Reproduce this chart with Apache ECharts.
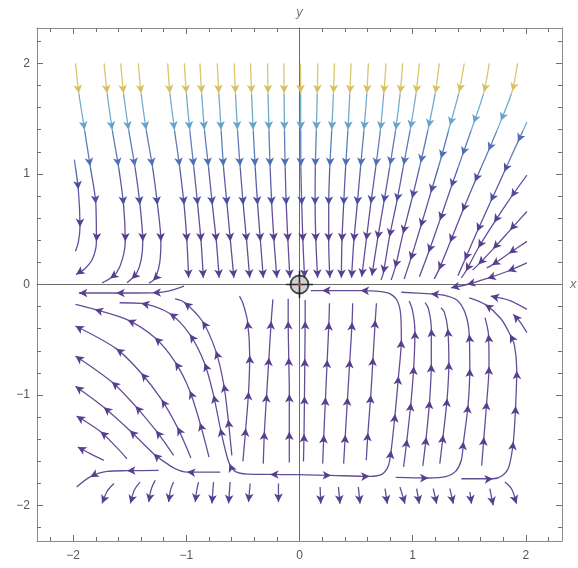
<!DOCTYPE html>
<html>
<head>
<meta charset="utf-8">
<script src="https://cdn.jsdelivr.net/npm/echarts@6/dist/echarts.min.js"></script>
<style>
html, body { margin: 0; padding: 0; background: #fff; }
#chart { width: 578px; height: 568px; }
</style>
</head>
<body>
<div id="chart"></div>
<script>
// streamlines, in plot units.
// first point = start of the line, [x, y] = arrowhead there, [x, y, 0] = bend only
var upperLines = [
    [[-1.98,2.0],[-1.95,1.73],[-1.90,1.40],[-1.85,1.07],[-1.80,0.73],[-1.795,0.39],[-1.83,0.23,0],[-1.90,0.14,0],[-1.975,0.09]],
    [[-1.99,1.13],[-1.955,0.86],[-1.94,0.52],[-1.955,0.38,0],[-1.98,0.30,0]],
    [[-1.727,2.0],[-1.70,1.73],[-1.655,1.40],[-1.60,1.07],[-1.555,0.72],[-1.54,0.39],[-1.565,0.23,0],[-1.615,0.11,0],[-1.675,0.055],[-1.745,0.015,0]],
    [[-1.58,2.0],[-1.555,1.73],[-1.51,1.40],[-1.455,1.07],[-1.41,0.72],[-1.385,0.39],[-1.40,0.22,0],[-1.44,0.10,0],[-1.485,0.05],[-1.525,0.015,0]],
    [[-1.424,2.0],[-1.40,1.73],[-1.355,1.40],[-1.30,1.07],[-1.255,0.72],[-1.225,0.39],[-1.235,0.20,0],[-1.265,0.08,0],[-1.295,0.035],[-1.33,0.012,0]],
    [[-1.165,2.0],[-1.145,1.73],[-1.105,1.40],[-1.06,1.07],[-1.02,0.72],[-0.995,0.39],[-0.98,0.06]],
    [[-1.018,2.0],[-1.0,1.73],[-0.97,1.40],[-0.935,1.07],[-0.90,0.72],[-0.87,0.39],[-0.85,0.06]],
    [[-0.88,2.0],[-0.865,1.73],[-0.84,1.40],[-0.805,1.07],[-0.77,0.72],[-0.735,0.39],[-0.71,0.06]],
    [[-0.727,2.0],[-0.713,1.73],[-0.693,1.40],[-0.672,1.07],[-0.64,0.72],[-0.61,0.39],[-0.58,0.06]],
    [[-0.577,2.0],[-0.566,1.73],[-0.548,1.40],[-0.525,1.07],[-0.497,0.72],[-0.467,0.39],[-0.44,0.06]],
    [[-0.433,2.0],[-0.424,1.73],[-0.409,1.40],[-0.392,1.07],[-0.37,0.72],[-0.345,0.39],[-0.32,0.06]],
    [[-0.283,2.0],[-0.278,1.73],[-0.27,1.40],[-0.26,1.07],[-0.245,0.72],[-0.225,0.39],[-0.20,0.06]],
    [[-0.138,2.0],[-0.136,1.73],[-0.133,1.40],[-0.127,1.07],[-0.117,0.72],[-0.102,0.39],[-0.085,0.06]],
    [[0.009,2.0],[0.01,1.73],[0.011,1.40],[0.012,1.07],[0.02,0.72],[0.03,0.39],[0.045,0.06]],
    [[0.162,2.0],[0.157,1.73],[0.149,1.40],[0.14,1.07],[0.138,0.72],[0.145,0.39],[0.16,0.06]],
    [[0.309,2.0],[0.30,1.73],[0.285,1.40],[0.268,1.07],[0.258,0.72],[0.258,0.39],[0.268,0.06]],
    [[0.456,2.0],[0.445,1.73],[0.428,1.40],[0.408,1.07],[0.39,0.72],[0.375,0.39],[0.37,0.06]],
    [[0.609,2.0],[0.595,1.73],[0.57,1.40],[0.54,1.07],[0.51,0.72],[0.48,0.39],[0.46,0.06]],
    [[0.765,2.0],[0.745,1.73],[0.715,1.40],[0.675,1.07],[0.63,0.73],[0.59,0.40],[0.55,0.07]],
    [[0.912,2.0],[0.89,1.73],[0.85,1.40],[0.80,1.08],[0.745,0.74],[0.69,0.41],[0.64,0.08]],
    [[1.059,2.0],[1.03,1.73],[0.98,1.41],[0.92,1.08],[0.86,0.75],[0.795,0.43],[0.74,0.10],[0.72,0.04,0]],
    [[1.236,2.0],[1.20,1.73],[1.14,1.42],[1.07,1.10],[0.995,0.78],[0.915,0.46],[0.845,0.15],[0.81,0.04,0]],
    [[1.456,2.0],[1.41,1.74],[1.33,1.44],[1.25,1.14],[1.16,0.83],[1.07,0.52],[0.98,0.22],[0.925,0.05,0]],
    [[1.677,2.0],[1.63,1.74],[1.54,1.46],[1.44,1.17],[1.34,0.88],[1.24,0.58],[1.14,0.29],[1.06,0.07,0]],
    [[1.927,2.0],[1.88,1.75],[1.78,1.48],[1.67,1.21],[1.55,0.93],[1.44,0.66],[1.33,0.38],[1.23,0.13],[1.19,0.05,0]]
];

var edgeLines = [
    [[2.01,1.47],[1.93,1.29],[1.81,1.02],[1.69,0.75],[1.57,0.48],[1.46,0.22],[1.40,0.08,0]],
    [[2.01,0.99],[1.87,0.79],[1.72,0.56],[1.58,0.33],[1.47,0.12],[1.43,0.06,0]],
    [[2.01,0.66],[1.86,0.49],[1.71,0.32],[1.58,0.18],[1.53,0.13,0]],
    [[2.01,0.39],[1.85,0.28],[1.70,0.175],[1.655,0.15,0]],
    [[2.01,0.195],[1.84,0.12],[1.66,0.055],[1.48,0.0],[1.34,-0.03]]
];

var lowerLeftLines = [
    [[-1.02,-0.015],[-1.16,-0.06,0],[-1.30,-0.075],[-1.62,-0.077],[-1.95,-0.077]],
    [[-1.73,-1.59],[-1.85,-1.53,0],[-1.96,-1.47]],
    [[-1.525,-1.576],[-1.61,-1.48,0],[-1.76,-1.33],[-1.97,-1.19]],
    [[-0.70,-1.697],[-0.995,-1.697],[-1.10,-1.665,0],[-1.20,-1.60,0],[-1.29,-1.53],[-1.50,-1.32],[-1.73,-1.11],[-1.98,-0.92]],
    [[-1.113,-1.546],[-1.17,-1.46,0],[-1.27,-1.32],[-1.45,-1.10],[-1.66,-0.88],[-1.98,-0.646]],
    [[-0.96,-1.57],[-1.00,-1.47,0],[-1.08,-1.29],[-1.22,-1.04],[-1.40,-0.80],[-1.62,-0.58],[-1.98,-0.375]],
    [[-0.80,-1.56],[-0.83,-1.44,0],[-0.88,-1.25],[-0.97,-0.96],[-1.10,-0.70],[-1.28,-0.48],[-1.52,-0.32],[-1.81,-0.225],[-1.98,-0.18,0]],
    [[-0.02,-1.72],[-0.26,-1.718],[-0.46,-1.715,0],[-0.57,-1.69,0],[-0.62,-1.62],[-0.66,-1.48,0],[-0.70,-1.30],[-0.76,-1.00],[-0.84,-0.71],[-0.97,-0.45],[-1.15,-0.26],[-1.40,-0.17],[-1.59,-0.165,0]],
    [[-0.598,-1.546],[-0.61,-1.42,0],[-0.63,-1.22],[-0.67,-0.90],[-0.74,-0.60],[-0.86,-0.33],[-1.02,-0.16],[-1.10,-0.13,0]],
    [[-0.50,-1.60],[-0.475,-1.30],[-0.45,-0.97],[-0.44,-0.64],[-0.46,-0.33],[-0.50,-0.17,0],[-0.53,-0.105,0]],
    [[-0.32,-1.62],[-0.31,-1.33],[-0.29,-0.99],[-0.27,-0.66],[-0.25,-0.33],[-0.235,-0.135,0]],
    [[-0.09,-1.61],[-0.09,-1.33],[-0.09,-0.99],[-0.095,-0.66],[-0.10,-0.33],[-0.10,-0.13,0]],
    [[-1.245,-1.682],[-1.525,-1.684],[-1.70,-1.69,0],[-1.85,-1.74],[-1.97,-1.832,0]]
];

var lowerRightLines = [
    [[0.035,-1.60],[0.04,-1.35],[0.044,-1.01],[0.047,-0.67],[0.05,-0.33],[0.05,-0.14,0]],
    [[0.205,-1.62],[0.215,-1.36],[0.23,-1.02],[0.245,-0.68],[0.26,-0.34],[0.265,-0.17,0]],
    [[0.39,-1.62],[0.405,-1.36],[0.425,-1.02],[0.445,-0.68],[0.465,-0.34],[0.47,-0.17,0]],
    [[0.59,-1.59],[0.605,-1.34],[0.63,-1.00],[0.65,-0.66],[0.67,-0.32],[0.68,-0.17,0]],
    [[-0.02,-1.72],[0.28,-1.727],[0.62,-1.735],[0.73,-1.715,0],[0.785,-1.64,0],[0.81,-1.50],[0.845,-1.17],[0.875,-0.83],[0.90,-0.50],[0.895,-0.28,0],[0.86,-0.14,0],[0.78,-0.075,0],[0.54,-0.055],[0.20,-0.055],[0.10,-0.055,0]],
    [[0.92,-1.65],[0.95,-1.40],[0.985,-1.07],[1.01,-0.74],[1.02,-0.42],[1.00,-0.24,0],[0.97,-0.15,0]],
    [[1.09,-1.64],[1.12,-1.38],[1.15,-1.05],[1.165,-0.72],[1.165,-0.40],[1.14,-0.22,0],[1.11,-0.165,0]],
    [[1.24,-1.62],[1.27,-1.36],[1.305,-1.03],[1.32,-0.70],[1.31,-0.40],[1.28,-0.25,0],[1.25,-0.21,0]],
    [[0.85,-1.745],[1.14,-1.75],[1.30,-1.735,0],[1.38,-1.69,0],[1.43,-1.59,0],[1.45,-1.42],[1.49,-1.09],[1.505,-0.76],[1.50,-0.45],[1.465,-0.26,0],[1.39,-0.14,0],[1.27,-0.095,0],[1.16,-0.085],[0.90,-0.07,0]],
    [[1.61,-1.64],[1.63,-1.38],[1.655,-1.06],[1.675,-0.74],[1.67,-0.45],[1.64,-0.30,0]],
    [[1.43,-1.757],[1.71,-1.757],[1.79,-1.73,0],[1.85,-1.65,0],[1.89,-1.42],[1.91,-1.10],[1.92,-0.78],[1.90,-0.55,0],[1.86,-0.45],[1.78,-0.31,0],[1.64,-0.18],[1.50,-0.12,0]],
    [[2.01,-0.225],[1.86,-0.145,0],[1.69,-0.105]],
    [[2.01,-0.435],[1.95,-0.34,0],[1.89,-0.27]]
];

// short strokes under the lower separating line
var underLines = [
    [[-1.64,-1.80],[-1.70,-1.87,0],[-1.745,-1.98]],
    [[-1.41,-1.787],[-1.46,-1.86,0],[-1.495,-1.98]],
    [[-1.275,-1.772],[-1.31,-1.85,0],[-1.333,-1.967]],
    [[-1.113,-1.787],[-1.14,-1.86,0],[-1.157,-1.967]],
    [[-0.892,-1.787],[-0.91,-1.87,0],[-0.921,-1.967]],
    [[-0.76,-1.787],[-0.774,-1.98]],
    [[-0.613,-1.787],[-0.627,-1.98]],
    [[-0.436,-1.80],[-0.451,-1.967]],
    [[-0.186,-1.80],[-0.186,-1.967]],
    [[0.182,-1.832],[0.188,-1.982]],
    [[0.344,-1.832],[0.358,-1.982]],
    [[0.52,-1.832],[0.535,-1.982]],
    [[0.756,-1.847],[0.776,-1.982]],
    [[0.888,-1.832],[0.932,-1.982]],
    [[1.035,-1.847],[1.059,-1.982]],
    [[1.182,-1.847],[1.212,-1.982]],
    [[1.329,-1.847],[1.359,-1.982]],
    [[1.506,-1.877],[1.52,-1.982]],
    [[1.682,-1.847],[1.712,-1.997]],
    [[1.815,-1.787],[1.875,-1.85,0],[1.918,-1.982]]
];

var majorTicks = [-2, -1, 0, 1, 2];
var minorTicks = [-2.2, -1.8, -1.6, -1.4, -1.2, -0.8, -0.6, -0.4, -0.2,
                  0.2, 0.4, 0.6, 0.8, 1.2, 1.4, 1.6, 1.8, 2.2];
var fixedPoints = [[0, 0]];

var allLines = [].concat(upperLines, edgeLines, lowerLeftLines, lowerRightLines, underLines);

var frameColor = '#8a8a8a';
var tickColor = '#6f6f6f';
var axisMin = -2.32, axisMax = 2.32;

function minusSign(v) {
    return String(v).replace('-', '\u2212');
}

function frameAxis(pos, ticks, len, isMain, showLabel) {
    var ax = {
        type: 'value',
        position: pos,
        min: axisMin,
        max: axisMax,
        axisLine: { show: isMain, onZero: false, lineStyle: { color: frameColor, width: 1 } },
        axisTick: { show: true, inside: true, length: len, customValues: ticks,
                    lineStyle: { color: tickColor, width: 1 } },
        axisLabel: { show: false },
        splitLine: { show: false }
    };
    if (showLabel) {
        ax.axisLabel = { show: true, customValues: majorTicks, formatter: minusSign,
                         color: '#555', fontSize: 12, fontFamily: 'Liberation Sans, Arial, sans-serif',
                         margin: pos === 'bottom' ? 9 : 7 };
    }
    return ax;
}

function originAxis(name, pos, gap) {
    return {
        type: 'value',
        position: pos,
        min: axisMin,
        max: axisMax,
        name: name,
        nameLocation: 'end',
        nameGap: gap,
        nameTextStyle: { color: '#777', fontStyle: 'italic', fontSize: 13,
                         fontFamily: 'Liberation Sans, Arial, sans-serif' },
        axisLine: { show: true, onZero: true, onZeroAxisIndex: 0,
                    lineStyle: { color: '#6c6c6c', width: 1 } },
        axisTick: { show: false },
        axisLabel: { show: false },
        splitLine: { show: false }
    };
}

var chart = echarts.init(document.getElementById('chart'));

chart.setOption({
    animation: false,
    backgroundColor: '#fff',
    grid: { left: 37, right: 16, top: 28, bottom: 27, containLabel: false, outerBoundsMode: 'none' },
    xAxis: [
        frameAxis('bottom', majorTicks, 6, true, true),
        frameAxis('top', majorTicks, 6, true, false),
        frameAxis('bottom', minorTicks, 4, false, false),
        frameAxis('top', minorTicks, 4, false, false),
        originAxis('x', 'bottom', 8)
    ],
    yAxis: [
        frameAxis('left', majorTicks, 6, true, true),
        frameAxis('right', majorTicks, 6, true, false),
        frameAxis('left', minorTicks, 4, false, false),
        frameAxis('right', minorTicks, 4, false, false),
        originAxis('y', 'left', 9)
    ]
});

function toPx(p) {
    return chart.convertToPixel({ xAxisIndex: 0, yAxisIndex: 0 }, [p[0], p[1]]);
}

// arrowhead direction follows the line through its neighbours
function arrowAngle(pts, i) {
    var a = toPx(pts[i - 1]);
    var b = toPx(pts[i + 1] || pts[i]);
    return Math.atan2(-(b[1] - a[1]), b[0] - a[0]) * 180 / Math.PI - 90;
}

var series = allLines.map(function (pts) {
    return {
        type: 'line',
        xAxisIndex: 0,
        yAxisIndex: 0,
        smooth: 0.3,
        symbol: 'none',
        silent: true,
        z: 3,
        lineStyle: { width: 1.3, opacity: 0.92 },
        data: pts.map(function (p, i) {
            if (i > 0 && p[2] !== 0) {
                return { value: [p[0], p[1]], symbol: 'arrow', symbolSize: [6.5, 8.5],
                         symbolRotate: arrowAngle(pts, i) };
            }
            return { value: [p[0], p[1]], symbol: 'none' };
        })
    };
});

var lineIdx = series.map(function (s, i) { return i; });

// origin marker: grey disc, black cross, small red centre
series.push({
    type: 'scatter', xAxisIndex: 0, yAxisIndex: 0, z: 6, silent: true,
    data: fixedPoints, symbol: 'circle', symbolSize: 18,
    itemStyle: { color: 'rgba(150,150,150,0.55)', borderColor: '#1e1e1e', borderWidth: 1.8 }
});
series.push({
    type: 'scatter', xAxisIndex: 0, yAxisIndex: 0, z: 7, silent: true,
    data: fixedPoints, symbolSize: 27,
    symbol: 'path://M-13,-0.75H13V0.75H-13Z M-0.75,-13H0.75V13H-0.75Z',
    itemStyle: { color: '#111' }
});
series.push({
    type: 'scatter', xAxisIndex: 0, yAxisIndex: 0, z: 8, silent: true,
    data: fixedPoints, symbol: 'circle', symbolSize: 4,
    itemStyle: { color: '#c0504f' }
});

chart.setOption({
    visualMap: {
        type: 'piecewise',
        show: false,
        dimension: 1,
        seriesIndex: lineIdx,
        pieces: [
            { gte: 1.72, color: '#d7c063' },
            { gte: 1.385, lt: 1.72, color: '#66a3cb' },
            { gte: 1.055, lt: 1.385, color: '#4f71b1' },
            { gte: 0.72, lt: 1.055, color: '#4d4f9e' },
            { lt: 0.72, color: '#573e8f' }
        ]
    },
    series: series
});
</script>
</body>
</html>
